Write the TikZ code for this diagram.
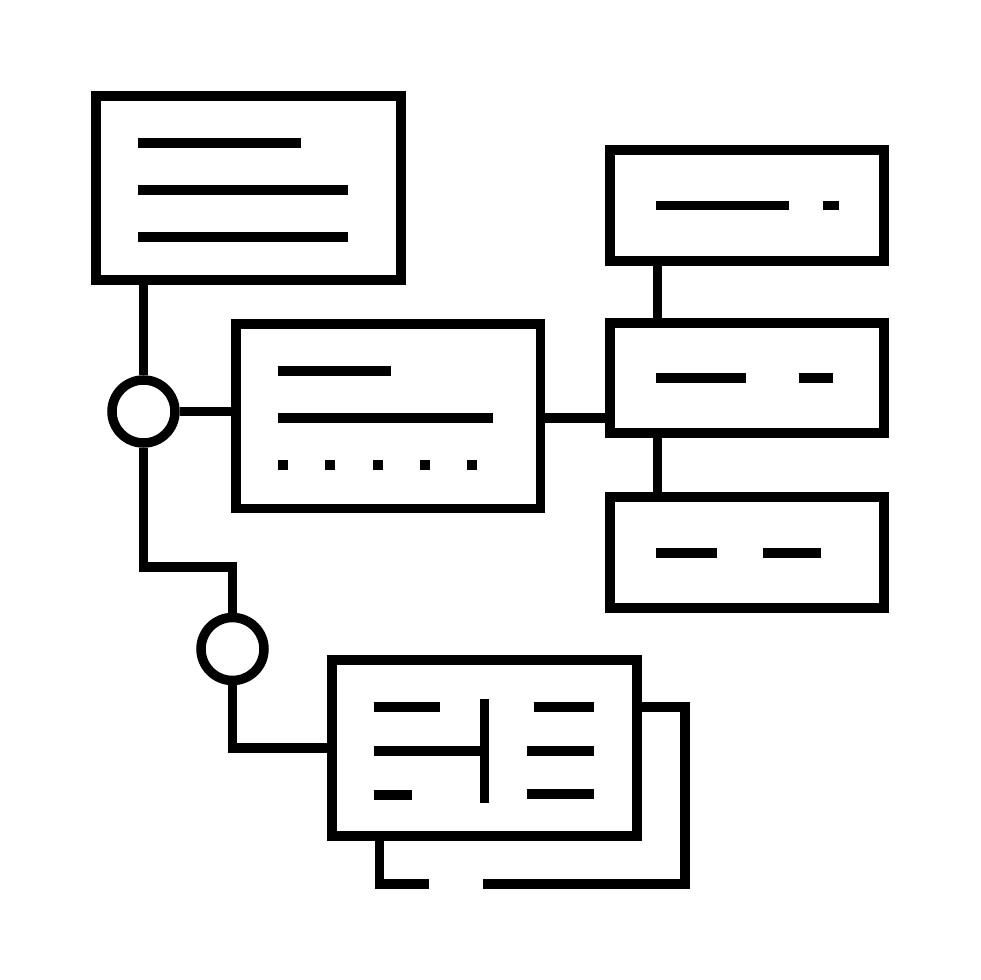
\documentclass[tikz,border=0pt]{standalone}
\begin{document}
\begin{tikzpicture}[x=1pt,y=-1pt,
  lw/.style={line width=9.5pt},
  box/.style={draw,lw,rectangle,inner sep=0pt,minimum width=#1},
  circ/.style={draw,lw,circle,inner sep=0pt,minimum size=63pt},
  bar/.style={lw,line cap=butt},
  dot/.style={line width=10pt,line cap=butt}]
\useasboundingbox (0,0) rectangle (980,980);
% boxes
\node[box=305pt,minimum height=184pt] (tb) at (248.5,188) {};
\node[box=304.5pt,minimum height=184.5pt] (mb) at (388,416) {};
\node[box=274pt,minimum height=111pt] (r1) at (747,205.5) {};
\node[box=274pt,minimum height=110pt] (r2) at (747,378) {};
\node[box=274pt,minimum height=111pt] (r3) at (747,552.5) {};
\node[box=305pt,minimum height=176pt] (bb) at (484.5,748) {};
\node[circ] (c1) at (143.5,411.5) {};
\node[circ] (c2) at (232.5,649) {};
% back sheet
\draw[bar,line join=miter] (bb.east |- 0,707) -- (685,707) -- (685,884) -- (483,884);
\draw[bar,line join=miter] (429,884) -- (379.5,884) -- (379.5,0 |- bb.south);
% connectors
\draw[bar] (c1.north) -- (c1.north |- tb.south);
\draw[bar] (c1.east) -- (c1.east -| mb.west);
\coordinate (k1) at (143.5,567);
\draw[bar,line join=miter] (c1.south) -- (k1) -| (c2.north);
\draw[bar,line join=miter] (c2.south) |- (bb.west);
\coordinate (k2) at (540,418);
\draw[bar] (mb.east |- k2) -- (r2.west |- k2);
\draw[bar] (657.5,0 |- r1.south) -- (657.5,0 |- r2.north);
\draw[bar] (657.5,0 |- r2.south) -- (657.5,0 |- r3.north);
% top box lines
\draw[bar] (138,143) -- (301,143);
\draw[bar] (138,190) -- (348,190);
\draw[bar] (138,237) -- (348,237);
% middle box lines
\draw[bar] (278,371) -- (391,371);
\draw[bar] (278,418) -- (493,418);
\foreach \x in {278,325.25,372.5,419.75,467}
  \draw[dot] (\x,465) -- (\x+10,465);
% right boxes lines
\draw[bar] (656,205.5) -- (789,205.5);
\draw[bar] (823,205.5) -- (839,205.5);
\draw[bar] (656,378) -- (746,378);
\draw[bar] (799,378) -- (833,378);
\draw[bar] (656,553) -- (717,553);
\draw[bar] (763,553) -- (821,553);
% bottom box lines
\draw[bar] (484.5,699) -- (484.5,803);
\draw[bar] (374,707) -- (440,707);
\draw[bar] (374,751) -- (484.5,751);
\draw[bar] (374,795) -- (412,795);
\draw[bar] (534,707) -- (594,707);
\draw[bar] (527,751) -- (594,751);
\draw[bar] (527,794) -- (594,794);
\end{tikzpicture}
\end{document}
